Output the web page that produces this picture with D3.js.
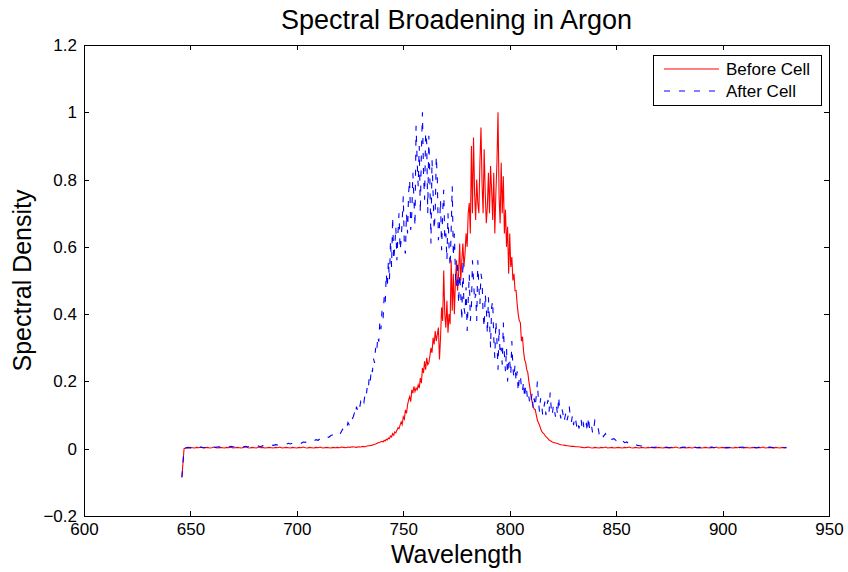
<!DOCTYPE html>
<html>
<meta charset="utf-8">

<head>
    <style>
        body {
            margin: 0;
            background: #fff;
        }

        text {
            font-family: "Liberation Sans", Arial, Helvetica, sans-serif;
            fill: #000;
        }

        .axis path,
        .axis line {
            fill: none;
            stroke: #000;
            shape-rendering: crispEdges;
        }
    </style>
</head>

<body>
    <div id="chart"></div>
    <script src="https://d3js.org/d3.v7.min.js"></script>

    <script>
        // tick labels
        const xTicks = [600, 650, 700, 750, 800, 850, 900, 950];
        const yTicks = [-0.2, 0, 0.2, 0.4, 0.6, 0.8, 1, 1.2];
        const yTickLabels = ["\u22120.2", "0", "0.2", "0.4", "0.6", "0.8", "1", "1.2"];
        const seriesNames = ["Before Cell", "After Cell"];

        // Before Cell (red) -- 646..739 nm, 1 nm apart
        const redStart = [
            -0.085, 0.000,
            0.003, 0.002, 0.004, 0.003, 0.002, 0.004, 0.003, 0.005, 0.002, 0.003,
            0.004, 0.002, 0.003, 0.005, 0.003, 0.002, 0.004, 0.003, 0.002, 0.004,
            0.003, 0.005, 0.002, 0.003, 0.004, 0.003, 0.002, 0.004, 0.006, 0.003,
            0.002, 0.004, 0.003, 0.002, 0.005, 0.003, 0.004, 0.002, 0.003, 0.004,
            0.003, 0.002, 0.004, 0.003, 0.005, 0.002, 0.003, 0.004, 0.003, 0.002,
            0.004, 0.003, 0.002, 0.004, 0.003, 0.005, 0.003, 0.002, 0.004, 0.003,
            0.002, 0.004, 0.003, 0.005, 0.002, 0.003, 0.004, 0.003, 0.002, 0.004,
            0.003, 0.004, 0.003, 0.005, 0.004, 0.003, 0.005, 0.004, 0.006, 0.005,
            0.004, 0.006, 0.005, 0.007, 0.006, 0.008,
            0.009, 0.010, 0.012, 0.014, 0.017, 0.019
        ];
        // Before Cell -- 740..820 nm, 0.5 nm apart
        const redPeak = [
            0.022, 0.020, 0.025, 0.023, 0.028, 0.026, 0.032, 0.030, 0.038, 0.035,
            0.045, 0.040, 0.050, 0.047, 0.055, 0.062, 0.060, 0.070, 0.080, 0.072,
            0.095, 0.088, 0.115, 0.105, 0.130, 0.145, 0.155, 0.140, 0.175, 0.165,
            0.185, 0.170, 0.180, 0.175, 0.190, 0.180, 0.210, 0.195, 0.240, 0.225,
            0.260, 0.235, 0.270, 0.250, 0.255, 0.275, 0.300, 0.285, 0.330, 0.310,
            0.350, 0.320, 0.340, 0.360, 0.265, 0.330, 0.420, 0.380, 0.530, 0.400,
            0.360, 0.440, 0.345, 0.400, 0.370, 0.560, 0.410, 0.520, 0.400, 0.500,
            0.560, 0.470, 0.520, 0.610, 0.500, 0.560, 0.610, 0.540, 0.580, 0.640,
            0.600, 0.700, 0.730, 0.640, 0.900, 0.700, 0.925, 0.760, 0.680, 0.800,
            0.730, 0.700, 0.850, 0.955, 0.790, 0.700, 0.890, 0.760, 0.670, 0.720,
            0.820, 0.700, 0.840, 0.770, 0.680, 0.820, 0.640, 0.760, 0.850, 1.000,
            0.750, 0.670, 0.850, 0.700, 0.810, 0.640, 0.710, 0.600, 0.660, 0.520,
            0.640, 0.540, 0.570, 0.500, 0.520, 0.470, 0.470, 0.430, 0.400, 0.380,
            0.375, 0.320, 0.333, 0.290, 0.265, 0.256, 0.235, 0.226, 0.200, 0.180,
            0.155, 0.140, 0.125, 0.118, 0.116, 0.100, 0.085, 0.077, 0.070, 0.060,
            0.052, 0.048, 0.045, 0.040, 0.036, 0.033, 0.030, 0.026, 0.024, 0.022,
            0.020
        ];
        // Before Cell -- 821..930 nm, 1 nm apart
        const redEnd = [
            0.018, 0.016, 0.014, 0.012, 0.011, 0.010, 0.009, 0.008, 0.007, 0.007, 0.006, 0.006,
            0.005, 0.004, 0.003, 0.004, 0.005, 0.003, 0.002, 0.004, 0.003, 0.002,
            0.004, 0.003, 0.005, 0.002, 0.003, 0.004, 0.002, 0.003, 0.004, 0.003,
            0.002, 0.004, 0.003, 0.005, 0.003, 0.002, 0.004, 0.003, 0.002, 0.004,
            0.003, 0.002, 0.004, 0.003, 0.005, 0.002, 0.003, 0.004, 0.003, 0.002,
            0.004, 0.003, 0.002, 0.004, 0.003, 0.005, 0.003, 0.002, 0.004, 0.003,
            0.002, 0.004, 0.003, 0.002, 0.005, 0.003, 0.004, 0.002, 0.003, 0.004,
            0.003, 0.002, 0.004, 0.003, 0.005, 0.002, 0.003, 0.004, 0.003, 0.002,
            0.004, 0.003, 0.002, 0.004, 0.003, 0.005, 0.003, 0.002, 0.004, 0.003,
            0.002, 0.004, 0.003, 0.002, 0.004, 0.003, 0.005, 0.002, 0.003, 0.004,
            0.003, 0.002, 0.004, 0.003, 0.002, 0.004, 0.003, 0.002
        ];

        // After Cell (blue) -- 646..719 nm, 1 nm apart
        const blueStart = [
            -0.085, 0.000,
            0.003, 0.004, 0.002, 0.004, 0.005, 0.003, 0.004, 0.005, 0.003, 0.004, 0.006, 0.004, 0.005,
            0.005, 0.004, 0.006, 0.005, 0.007, 0.004, 0.006, 0.005, 0.007, 0.006,
            0.005, 0.007, 0.006, 0.008, 0.006, 0.007, 0.005, 0.008, 0.007, 0.006,
            0.007, 0.008, 0.006, 0.009, 0.008, 0.010, 0.009, 0.011, 0.010, 0.012,
            0.011, 0.013, 0.012, 0.014, 0.013, 0.016, 0.014, 0.017, 0.016,
            0.015, 0.018, 0.016, 0.020, 0.019, 0.022, 0.020, 0.024, 0.023, 0.027,
            0.025, 0.030, 0.033, 0.031, 0.036, 0.034, 0.039, 0.042, 0.040, 0.046
        ];
        // After Cell -- 720..840 nm, 0.5 nm apart
        const bluePeak = [
            0.050, 0.046, 0.052, 0.058, 0.055, 0.061, 0.068, 0.064, 0.078, 0.072,
            0.085, 0.080, 0.088, 0.095, 0.105, 0.098, 0.125, 0.115, 0.130, 0.122,
            0.140, 0.133, 0.146, 0.138, 0.160, 0.152, 0.180, 0.170, 0.215, 0.200,
            0.240, 0.228, 0.268, 0.255, 0.300, 0.285, 0.335, 0.318, 0.380, 0.355,
            0.410, 0.385, 0.450, 0.430, 0.520, 0.480, 0.560, 0.500, 0.620, 0.540,
            0.690, 0.560, 0.600, 0.660, 0.560, 0.640, 0.700, 0.590, 0.620, 0.680,
            0.750, 0.600, 0.580, 0.700, 0.640, 0.760, 0.800, 0.650, 0.700, 0.820,
            0.740, 0.660, 0.960, 0.860, 0.780, 0.900, 0.700, 0.880, 1.000, 0.820,
            0.740, 0.940, 0.910, 0.700, 0.930, 0.800, 0.610, 0.860, 0.760, 0.650,
            0.700, 0.870, 0.800, 0.620, 0.660, 0.740, 0.590, 0.700, 0.770, 0.620,
            0.640, 0.560, 0.700, 0.600, 0.540, 0.650, 0.780, 0.570, 0.640, 0.520,
            0.480, 0.560, 0.430, 0.520, 0.460, 0.380, 0.560, 0.420, 0.400, 0.480,
            0.350, 0.440, 0.520, 0.380, 0.420, 0.560, 0.500, 0.440, 0.460, 0.380,
            0.560, 0.480, 0.430, 0.520, 0.500, 0.400, 0.360, 0.460, 0.420, 0.340,
            0.450, 0.380, 0.300, 0.420, 0.440, 0.330, 0.270, 0.380, 0.320, 0.235,
            0.360, 0.280, 0.300, 0.250, 0.375, 0.280, 0.230, 0.300, 0.200, 0.270,
            0.260, 0.220, 0.320, 0.240, 0.210, 0.250, 0.200, 0.230, 0.170, 0.210,
            0.220, 0.180, 0.170, 0.200, 0.150, 0.190, 0.170, 0.140, 0.155, 0.130,
            0.140, 0.165, 0.120, 0.150, 0.125, 0.160, 0.200, 0.140, 0.110, 0.150,
            0.130, 0.100, 0.120, 0.140, 0.100, 0.130, 0.145, 0.110, 0.167, 0.120,
            0.100, 0.130, 0.115, 0.095, 0.125, 0.100, 0.155, 0.110, 0.090, 0.120,
            0.105, 0.080, 0.095, 0.110, 0.085, 0.100, 0.125, 0.090, 0.080, 0.100,
            0.070, 0.095, 0.085, 0.065, 0.080, 0.060, 0.075, 0.090, 0.060, 0.080,
            0.055, 0.070, 0.075, 0.050, 0.095, 0.060, 0.050, 0.065, 0.045, 0.060,
            0.085
        ];
        // After Cell -- 841..930 nm, 1 nm apart
        const blueEnd = [
            0.080, 0.045, 0.055, 0.036, 0.045, 0.032, 0.036, 0.028, 0.030, 0.024, 0.028,
            0.020, 0.024, 0.018, 0.020, 0.015, 0.016, 0.012, 0.013, 0.010, 0.009, 0.008,
            0.006, 0.005, 0.004, 0.005, 0.003, 0.004, 0.005, 0.003, 0.004, 0.003,
            0.005, 0.004, 0.003, 0.004, 0.005, 0.003, 0.004, 0.003, 0.004, 0.005,
            0.003, 0.004, 0.003, 0.005, 0.004, 0.003, 0.004, 0.003, 0.005, 0.004,
            0.003, 0.004, 0.005, 0.003, 0.004, 0.003, 0.004, 0.005, 0.003, 0.004,
            0.003, 0.005, 0.004, 0.003, 0.004, 0.003, 0.005, 0.004, 0.003, 0.004,
            0.005, 0.003, 0.004, 0.003, 0.004, 0.005, 0.003, 0.004, 0.003, 0.005,
            0.004, 0.003, 0.004, 0.003, 0.005, 0.004, 0.003, 0.004
        ];

        // turn a run of samples into [wavelength, value] pairs
        function samples(start, step, values) {
            return values.map(function (v, i) { return [start + i * step, v]; });
        }

        const before = samples(646, 1, redStart)
            .concat(samples(740, 0.5, redPeak))
            .concat(samples(821, 1, redEnd));
        const after = samples(646, 1, blueStart)
            .concat(samples(720, 0.5, bluePeak))
            .concat(samples(841, 1, blueEnd));

        // dimensions
        var totalW = 848, totalH = 572;
        var margin = { top: 45, right: 19, bottom: 56, left: 84 },
            width = totalW - margin.left - margin.right,
            height = totalH - margin.top - margin.bottom;

        var x = d3.scaleLinear().domain([600, 950]).range([0, width]);
        var y = d3.scaleLinear().domain([-0.2, 1.2]).range([height, 0]);

        var svg = d3.select("#chart")
            .append("svg")
            .attr("width", totalW)
            .attr("height", totalH);

        var g = svg.append("g")
            .attr("transform", "translate(" + margin.left + "," + margin.top + ")");

        // title and axis labels
        svg.append("text")
            .attr("x", margin.left + width / 2)
            .attr("y", 29)
            .attr("text-anchor", "middle")
            .style("font-size", "27px")
            .text("Spectral Broadening in Argon");

        svg.append("text")
            .attr("x", margin.left + width / 2)
            .attr("y", 563)
            .attr("text-anchor", "middle")
            .style("font-size", "25px")
            .text("Wavelength");

        svg.append("text")
            .attr("transform", "translate(31," + (margin.top + height / 2) + ") rotate(-90)")
            .attr("text-anchor", "middle")
            .style("font-size", "25px")
            .text("Spectral Density");

        // lines
        var line = d3.line()
            .x(function (d) { return x(d[0]); })
            .y(function (d) { return y(d[1]); });

        g.append("path")
            .datum(before)
            .attr("d", line)
            .attr("fill", "none")
            .attr("stroke", "#ff0000")
            .attr("stroke-width", 1.1);

        g.append("path")
            .datum(after)
            .attr("d", line)
            .attr("fill", "none")
            .attr("stroke", "#0000ff")
            .attr("stroke-width", 1.1)
            .attr("stroke-dasharray", "6,9");

        // axes, ticks inside on all four sides
        var tickLen = 5;
        g.append("g")
            .attr("class", "axis")
            .attr("transform", "translate(0," + height + ")")
            .call(d3.axisBottom(x).tickValues(xTicks).tickSize(-tickLen).tickPadding(7).tickFormat(d3.format("d")))
            .call(function (s) { s.selectAll("text").style("font-size", "17px"); });

        g.append("g")
            .attr("class", "axis")
            .call(d3.axisTop(x).tickValues(xTicks).tickSize(-tickLen).tickFormat(""));

        g.append("g")
            .attr("class", "axis")
            .call(d3.axisLeft(y).tickValues(yTicks).tickSize(-tickLen).tickPadding(7)
                .tickFormat(function (d, i) { return yTickLabels[i]; }))
            .call(function (s) { s.selectAll("text").style("font-size", "17px"); });

        g.append("g")
            .attr("class", "axis")
            .attr("transform", "translate(" + width + ",0)")
            .call(d3.axisRight(y).tickValues(yTicks).tickSize(-tickLen).tickFormat(""));

        g.selectAll(".axis path").attr("stroke-width", 1);
        g.selectAll(".axis text").attr("fill", "#000");

        // legend
        var legend = svg.append("g").attr("transform", "translate(653,55)");
        legend.append("rect")
            .attr("width", 168)
            .attr("height", 50)
            .attr("fill", "#fff")
            .attr("stroke", "#000")
            .attr("shape-rendering", "crispEdges");

        var legendStyles = [
            { color: "#ff0000", dash: null },
            { color: "#0000ff", dash: "6,9" }
        ];
        seriesNames.forEach(function (name, i) {
            var ly = 14 + i * 22;
            legend.append("line")
                .attr("x1", 11).attr("x2", 66)
                .attr("y1", ly).attr("y2", ly)
                .attr("stroke", legendStyles[i].color)
                .attr("stroke-width", 1)
                .attr("stroke-dasharray", legendStyles[i].dash);
            legend.append("text")
                .attr("x", 73)
                .attr("y", ly + 6)
                .style("font-size", "17px")
                .text(name);
        });
    </script>

</body>

</html>
